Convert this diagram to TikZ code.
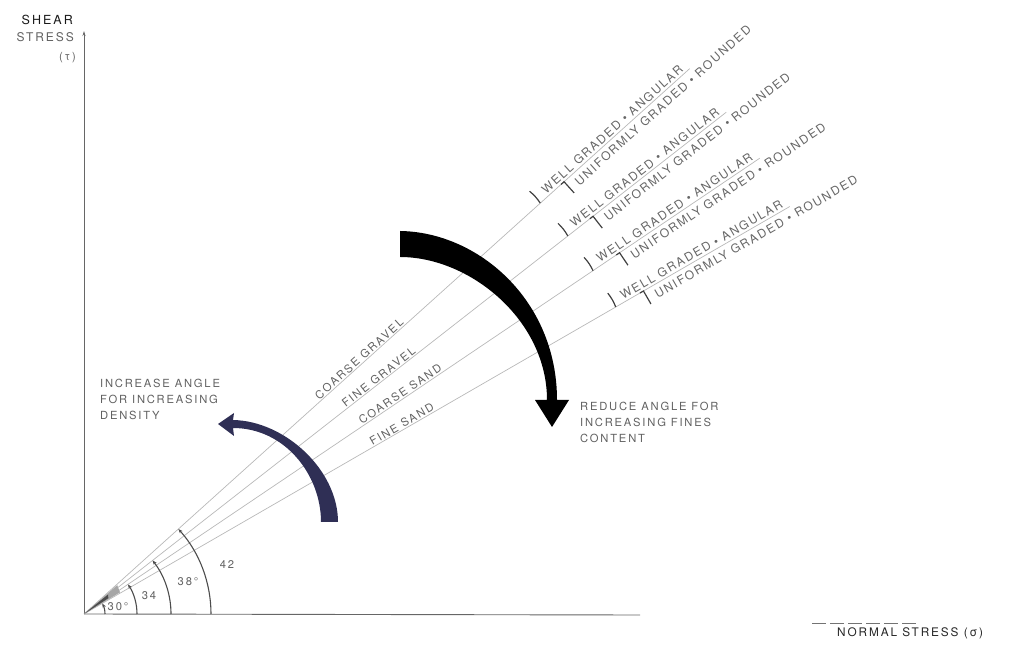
\documentclass[tikz,border=0pt]{standalone}
\usepackage{fontspec}
\newfontfamily\labelfont{TeX Gyre Heros}[LetterSpace=16]
\newfontfamily\widefont{TeX Gyre Heros}[LetterSpace=14]
\usetikzlibrary{calc,arrows.meta}
\definecolor{navyink}{HTML}{2F2F55}
\begin{document}
\begin{tikzpicture}[x=1pt,y=1pt,
  txt/.style={font=\labelfont\fontsize{11.2}{15.8}\selectfont, text=black!62, inner sep=1pt},
  endtxt/.style={font=\widefont\fontsize{12}{15}\selectfont, text=black!60, inner sep=1pt},
  ray/.style={draw=black!28, line width=0.7pt},
  brk/.style={draw=black!75, line width=1.2pt},
  anglearc/.style={draw=black!70, line width=1.1pt, -{Stealth[length=4.5pt,width=3.5pt]}},
  axis/.style={draw=black!60, line width=0.9pt},
]
\useasboundingbox (0,0) rectangle (1017,650);

% origin of the stress plane
\coordinate (O) at (84,36);

% axes
\coordinate (ytop) at (84,619);
\coordinate (xend) at (640,35);
\draw[axis, -{Stealth[length=5pt,width=3pt]}] (O) -- (ytop);
\draw[axis] (O) -- (xend);
\coordinate (xd1) at (812,27);
\coordinate (xd2) at (918,27);
\draw[black!55, line width=0.9pt, dash pattern=on 14pt off 4pt] (xd1) -- (xd2);

\node[txt, text=black!90, anchor=east, font=\labelfont\fontsize{12.5}{15}\selectfont] (shear) at (74,630) {SHEAR};
\node[txt, anchor=east, font=\labelfont\fontsize{12}{15}\selectfont] (stress) at (75,612.5) {STRESS};
\node[txt, anchor=east] (tau) at (77,592) {(τ)};
\node[txt, text=black!85, anchor=west, font=\labelfont\fontsize{11.8}{15}\selectfont] (normal) at (836,17) {NORMAL STRESS (σ)};

% failure envelopes for the four soil types
\foreach \a/\n/\r/\t in {42/cg/375/COARSE GRAVEL, 38/fg/378/FINE GRAVEL, 34/cs/385/COARSE SAND, 30/fs/370/FINE SAND} {
  \coordinate (\n-end) at ($(O)+(\a:815)$);
  \coordinate (\n-b1) at ($(O)+(\a:614)$);
  \coordinate (\n-b2) at ($(O)+(\a:646)$);
  \draw[ray] (O) -- (\n-end);
  \node[txt, rotate=\a, anchor=south] (\n-lab) at ($(O)+(\a:\r)$) {\t};
  \draw[brk] (\n-b1) to[bend right=8] ($(\n-b1)+({\a+90}:16)$);
  \draw[brk] ($(\n-b2)+(\a:-4)$) -- (\n-b2) -- ($(\n-b2)+({\a-90}:15)$);
  \node[endtxt, rotate=\a, anchor=south west, inner sep=2pt] (\n-well) at ($(O)+(\a:622)$) {WELL GRADED • ANGULAR};
  \node[endtxt, rotate=\a, anchor=north west, inner sep=4.5pt] (\n-unif) at ($(O)+(\a:650)$) {UNIFORMLY GRADED • ROUNDED};
}

% dense ink where the envelopes meet
\fill[black!35] (O) -- ($(O)+(41:44)$) -- ($(O)+(31:42)$) -- cycle;
\fill[black!70] (O) -- ($(O)+(39:31)$) -- ($(O)+(33:29)$) -- cycle;

% friction angles
\draw[anglearc] ($(O)+(21,0)$) arc[start angle=0, end angle=30, radius=21];
\draw[anglearc] ($(O)+(53,0)$) arc[start angle=0, end angle=34, radius=53];
\draw[anglearc] ($(O)+(87,0)$) arc[start angle=0, end angle=38, radius=87];
\draw[anglearc] ($(O)+(127,0)$) arc[start angle=0, end angle=42, radius=127];
\node[txt] (a30) at (118,43) {30°};
\node[txt] (a34) at (149,54) {34};
\node[txt] (a38) at (188,68) {38°};
\node[txt] (a42) at (227,85) {42};

% curved arrow: angle grows with density
\fill[navyink] (338,128) .. controls (338,180) and (285,229) .. (233,230)
  -- (234,237) -- (218,226) -- (234,214) -- (233,222)
  .. controls (285,222) and (321,175) .. (321,128) -- cycle;
\node[txt, align=left, anchor=north west] (incr) at (99,272)
  {INCREASE ANGLE\\FOR INCREASING\\DENSITY};

% curved arrow: angle drops with fines content
\fill[black] (400,419) .. controls (478,418) and (557,350) .. (557,250)
  -- (569,250) -- (552,223) -- (535,250) -- (547,250)
  .. controls (547,330) and (470,393) .. (400,393) -- cycle;
\node[txt, align=left, anchor=north west] (redu) at (579,249)
  {REDUCE ANGLE FOR\\INCREASING FINES\\CONTENT};
\end{tikzpicture}
\end{document}
